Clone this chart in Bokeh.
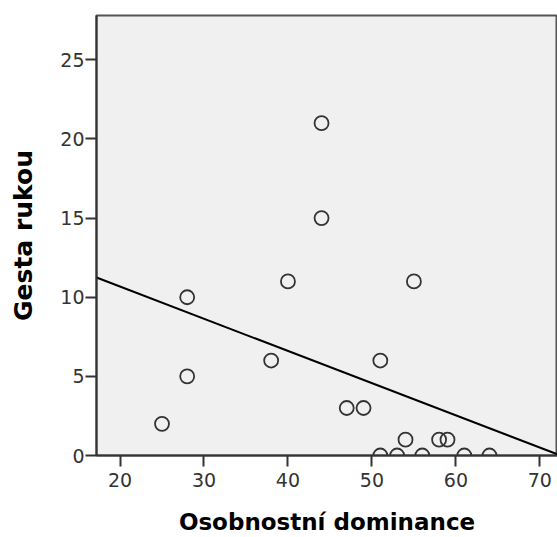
import numpy as np
from bokeh.plotting import figure
from bokeh.models import Range1d, ColumnDataSource, FixedTicker
from bokeh.embed import file_html
from bokeh.resources import INLINE

# Data
dominance = [25, 28, 28, 38, 40, 44, 44, 47, 49, 51, 55, 54, 58, 59, 51, 53, 56, 61, 64]
gestures = [2, 10, 5, 6, 11, 21, 15, 3, 3, 6, 11, 1, 1, 1, 0, 0, 0, 0, 0]
x_ticks = [20, 30, 40, 50, 60, 70]
y_ticks = [0, 5, 10, 15, 20, 25]

x_min, x_max = 17.2, 72.1
y_min, y_max = 0, 27.8

p = figure(width=557, height=537, output_backend="svg", toolbar_location=None,
           x_range=Range1d(x_min, x_max), y_range=Range1d(y_min, y_max),
           min_border_left=96, min_border_right=0, min_border_top=15, min_border_bottom=82)
p.background_fill_color = "#f0f0f0"
p.border_fill_color = "white"
p.outline_line_color = "#555555"
p.outline_line_width = 2
p.grid.visible = False

# regression line computed from the data
slope, intercept = np.polyfit(dominance, gestures, 1)
xs = [x_min, x_max]
ys = [intercept + slope * v for v in xs]
p.line(xs, ys, line_color="black", line_width=2)

src = ColumnDataSource(dict(x=dominance, y=gestures))
p.scatter("x", "y", source=src, marker="circle", size=14, fill_color=None,
          line_color="#333333", line_width=1.8)

for ax in (p.xaxis[0], p.yaxis[0]):
    ax.axis_line_color = "#333333"
    ax.axis_line_width = 2
    ax.major_tick_line_color = "#333333"
    ax.major_tick_line_width = 2
    ax.major_tick_out = 11
    ax.major_tick_in = 0
    ax.minor_tick_line_color = None
    ax.major_label_text_font = "DejaVu Sans"
    ax.major_label_text_font_size = "19px"
    ax.major_label_text_color = "#333333"
    ax.axis_label_text_font = "DejaVu Sans"
    ax.axis_label_text_font_style = "bold"
    ax.axis_label_text_color = "black"

p.xaxis[0].axis_label_text_font_size = "23px"
p.yaxis[0].axis_label_text_font_size = "25px"
p.xaxis[0].ticker = FixedTicker(ticks=x_ticks)
p.yaxis[0].ticker = FixedTicker(ticks=y_ticks)
p.xaxis[0].axis_label = "Osobnostní dominance"
p.yaxis[0].axis_label = "Gesta rukou"
p.xaxis[0].major_label_standoff = 6
p.yaxis[0].major_label_standoff = 1
p.xaxis[0].axis_label_standoff = 19
p.yaxis[0].axis_label_standoff = 19

open("out.html", "w").write(file_html(p, INLINE))
